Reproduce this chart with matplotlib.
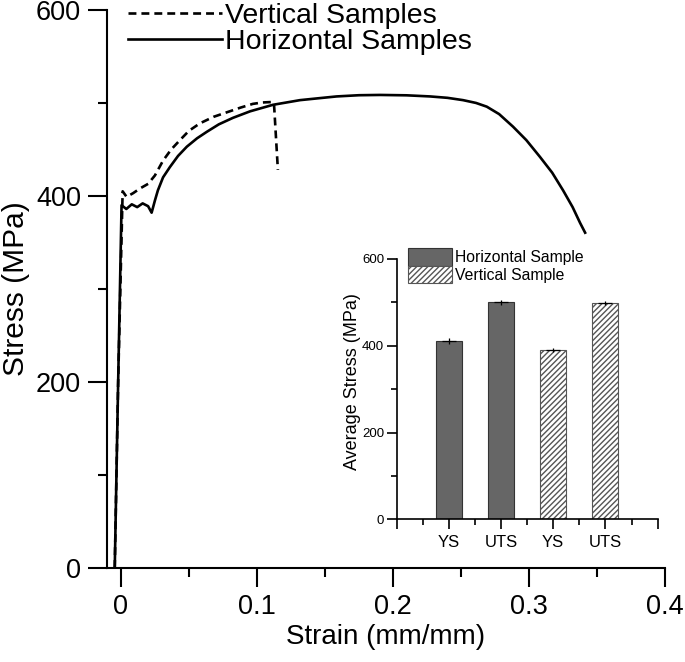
import numpy as np
import matplotlib
matplotlib.use("Agg")
import matplotlib.pyplot as plt
from matplotlib.ticker import MultipleLocator
from matplotlib.patches import Patch

plt.rcParams['font.family'] = ['Liberation Sans', 'DejaVu Sans']

# stress-strain curves
h_strain = [-0.0045, -0.002, 0.0005, 0.004, 0.008, 0.012, 0.016, 0.020, 0.0226,
            0.025, 0.0272, 0.031, 0.036, 0.042, 0.0485, 0.056, 0.0632, 0.072,
            0.0824, 0.095, 0.1118, 0.1316, 0.145, 0.1586, 0.175, 0.1904, 0.21,
            0.2272, 0.24, 0.2515, 0.261, 0.2689, 0.278, 0.2882, 0.298, 0.308,
            0.317, 0.325, 0.332, 0.3375, 0.3412]
h_stress = [0, 200, 390, 386, 391, 388, 392, 389, 382,
            395, 406, 420, 431, 443, 453, 462, 469, 477,
            484, 491, 498, 503, 505, 507, 508.3, 508.6, 508.2,
            507, 505.5, 503, 500, 496, 488, 474.5, 460, 442,
            425, 406, 388, 371, 360.5]

v_strain = [-0.0045, -0.002, 0.0013, 0.0042, 0.009, 0.014, 0.020, 0.025, 0.031,
            0.037, 0.0434, 0.05, 0.058, 0.068, 0.078, 0.088, 0.097, 0.104,
            0.111, 0.1125, 0.1154]
v_stress = [0, 200, 405, 399, 403, 408, 413, 422, 438,
            450, 460, 470, 478, 485, 490, 495, 499, 500.5,
            501, 500, 428]

# inset bar data
bar_labels = ['', 'YS', 'UTS', 'YS', 'UTS', '']
h_means = [411, 500]
h_err = [6, 6]
v_means = [390, 498]
v_err = [5, 5]

fig = plt.figure(figsize=(6.85, 6.62), dpi=100)
ax = fig.add_axes([0.156, 0.142, 0.815, 0.843])

ax.plot(v_strain, v_stress, color='black', lw=1.9, linestyle=(0, (3.0, 1.9)),
        label='Vertical Samples')
ax.plot(h_strain, h_stress, color='black', lw=1.9, label='Horizontal Samples')

ax.set_xlim(-0.0103, 0.4)
ax.set_ylim(0, 600)
ax.set_xticks([0, 0.1, 0.2, 0.3, 0.4])
ax.set_xticklabels(['0', '0.1', '0.2', '0.3', '0.4'])
ax.xaxis.set_minor_locator(MultipleLocator(0.05))
ax.yaxis.set_major_locator(MultipleLocator(200))
ax.yaxis.set_minor_locator(MultipleLocator(100))
for side in ['top', 'right']:
    ax.spines[side].set_visible(False)
for side in ['left', 'bottom']:
    ax.spines[side].set_linewidth(1.5)
ax.tick_params(which='major', direction='out', length=13.5, width=1.5, labelsize=19.5, pad=5)
ax.tick_params(which='minor', direction='out', length=6.5, width=1.5)
ax.set_xlabel('Strain (mm/mm)', fontsize=20, labelpad=3)
ax.set_ylabel('Stress (MPa)', fontsize=21.5)
ax.yaxis.set_label_coords(-0.138, 0.5)
ax.legend(loc='upper left', bbox_to_anchor=(0.0376, 1.012), frameon=False, fontsize=20.5,
          handlelength=3.3, handletextpad=0.1, labelspacing=0.0, borderpad=0,
          borderaxespad=0)

# inset bar chart
axi = fig.add_axes([0.579, 0.2155, 0.381, 0.3935])
xh = np.array([1, 2])
xv = np.array([3, 4])
axi.bar(xh, h_means, width=0.5, color='#666666', edgecolor='#333333', lw=0.8)
axi.bar(xv, v_means, width=0.5, color='white', edgecolor='#555555', hatch='//////', lw=0.8)
axi.errorbar(xh, h_means, yerr=h_err, fmt='_', ms=10, mew=0.9, color='black', elinewidth=0.9, capsize=0)
axi.errorbar(xv, v_means, yerr=v_err, fmt='_', ms=10, mew=0.9, color='black', elinewidth=0.9, capsize=0)
axi.set_xlim(0, 5)
axi.set_ylim(0, 600)
axi.set_xticks([0, 1, 2, 3, 4, 5])
axi.set_xticklabels(bar_labels)
axi.set_xticks([0.5, 1.5, 2.5, 3.5, 4.5], minor=True)
axi.yaxis.set_major_locator(MultipleLocator(200))
axi.yaxis.set_minor_locator(MultipleLocator(100))
for side in ['top', 'right']:
    axi.spines[side].set_visible(False)
for side in ['left', 'bottom']:
    axi.spines[side].set_linewidth(1.2)
axi.tick_params(axis='y', which='major', length=7, width=1.2, labelsize=9.5, pad=2)
axi.tick_params(axis='y', which='minor', length=4, width=1.2)
axi.tick_params(axis='x', which='major', length=7, width=1.2, labelsize=12, pad=4)
axi.tick_params(axis='x', which='minor', length=4, width=1.2)
axi.set_ylabel('Average Stress (MPa)', fontsize=13)
axi.yaxis.set_label_coords(-0.135, 0.53)
handles = [Patch(facecolor='#666666', edgecolor='#333333', lw=0.8),
           Patch(facecolor='white', edgecolor='#555555', hatch='//////', lw=0.8)]
axi.legend(handles, ['Horizontal Sample', 'Vertical Sample'], loc='upper left',
           bbox_to_anchor=(0.045, 1.04), frameon=False, fontsize=11.3,
           handlelength=2.8, handleheight=1.3, handletextpad=0.2, labelspacing=0.05,
           borderaxespad=0, borderpad=0)

fig.savefig('out.png', dpi=100)
